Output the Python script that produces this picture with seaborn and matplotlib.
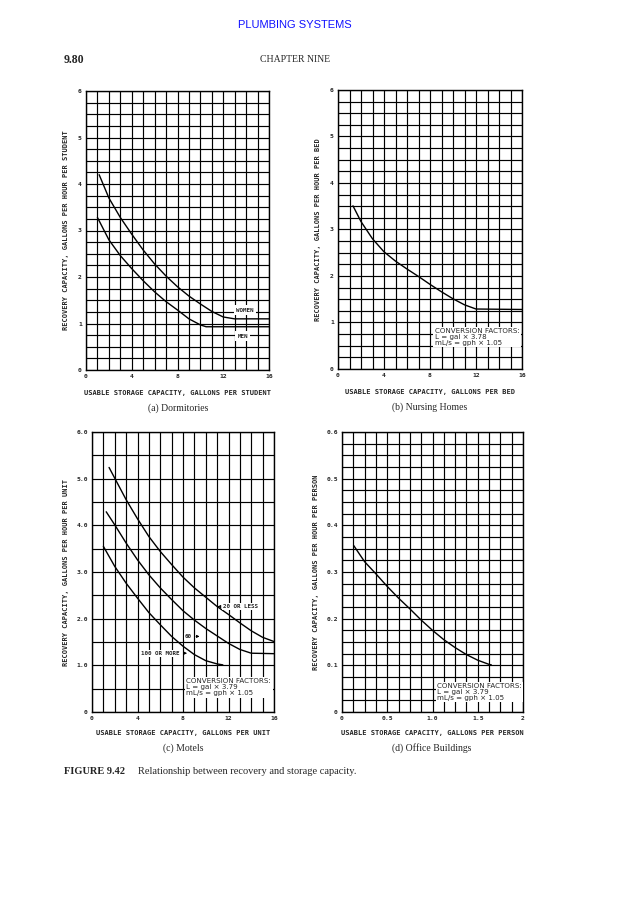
import numpy as np
import pandas as pd
import matplotlib
matplotlib.use("Agg")
import matplotlib.pyplot as plt
import seaborn as sns

# ---------------- data ----------------
# (a) Dormitories
dorm_women_x = [1.15, 2, 3, 4, 5, 6, 7, 8, 9, 10, 11, 12, 13, 16]
dorm_women_y = [4.2, 3.7, 3.28, 2.92, 2.58, 2.28, 2.02, 1.79, 1.59, 1.42, 1.26, 1.14, 1.1, 1.1]
dorm_men_x = [1.0, 2, 3, 4, 5, 6, 7, 8, 9, 10, 10.5, 16]
dorm_men_y = [3.28, 2.8, 2.46, 2.18, 1.92, 1.68, 1.47, 1.29, 1.1, 0.97, 0.93, 0.93]

# (b) Nursing homes
nurse_x = [1.3, 2, 3, 4, 5, 6, 7, 8, 9, 10, 11, 12, 16]
nurse_y = [3.51, 3.17, 2.8, 2.52, 2.32, 2.15, 1.99, 1.82, 1.66, 1.51, 1.38, 1.29, 1.28]

# (c) Motels
motel_20_x = [1.5, 2, 3, 4, 5, 6, 7, 8, 9, 10, 11, 12, 13, 14, 15, 16]
motel_20_y = [5.24, 5.01, 4.55, 4.14, 3.76, 3.44, 3.16, 2.89, 2.66, 2.46, 2.26, 2.09, 1.91, 1.74, 1.6, 1.51]
motel_60_x = [1.25, 2, 3, 4, 5, 6, 7, 8, 9, 10, 11, 12, 13, 14, 16]
motel_60_y = [4.29, 4.01, 3.62, 3.26, 2.94, 2.66, 2.41, 2.17, 1.97, 1.79, 1.63, 1.47, 1.34, 1.26, 1.25]
motel_100_x = [1.0, 2, 3, 4, 5, 6, 7, 8, 9, 10, 11, 11.5]
motel_100_y = [3.55, 3.12, 2.76, 2.44, 2.13, 1.87, 1.62, 1.41, 1.23, 1.1, 1.03, 1.01]

# (d) Office buildings
office_x = [0.128, 0.25, 0.375, 0.5, 0.625, 0.75, 0.875, 1.0, 1.125, 1.25, 1.375, 1.5, 1.625, 1.65]
office_y = [0.357, 0.322, 0.296, 0.269, 0.244, 0.221, 0.197, 0.175, 0.155, 0.138, 0.123, 0.111, 0.102, 0.101]

# tick labels
dorm_yticks = [0, 1, 2, 3, 4, 5, 6]
big_xticks = [0, 4, 8, 12, 16]
motel_yticks = [0, 1.0, 2.0, 3.0, 4.0, 5.0, 6.0]
motel_yticklabels = ["0", "1.0", "2.0", "3.0", "4.0", "5.0", "6.0"]
office_yticks = [0, 0.1, 0.2, 0.3, 0.4, 0.5, 0.6]
office_yticklabels = ["0", "0.1", "0.2", "0.3", "0.4", "0.5", "0.6"]
office_xticks = [0, 0.5, 1.0, 1.5, 2]
office_xticklabels = ["0", "0.5", "1.0", "1.5", "2"]

conv_a = "CONVERSION FACTORS:\nL = gal × 3.78\nmL/s = gph × 1.05"
conv_b = "CONVERSION FACTORS:\nL = gal × 3.79\nmL/s = gph × 1.05"

# ---------------- figure ----------------
sns.set_style("white")
plt.rcParams['font.family'] = ['DejaVu Sans']

fig = plt.figure(figsize=(6.18, 9.0), dpi=100)
W, H = 618.0, 900.0

def axes_px(x0, y0, x1, y1):
    return fig.add_axes([x0 / W, 1 - y1 / H, (x1 - x0) / W, (y1 - y0) / H])

ax_a = axes_px(86, 91, 269, 370)
ax_b = axes_px(338, 90, 522, 369)
ax_c = axes_px(92, 432, 274, 712)
ax_d = axes_px(342, 432, 523, 712)

mono = "DejaVu Sans Mono"
tick_kw = dict(fontsize=4.6, family=mono, fontweight="bold")
lab_kw = dict(fontsize=5.0, family=mono, fontweight="bold")

def setup(ax, xlim, ylim, xminor, yminor, xticks, xticklabels, yticks, yticklabels):
    ax.set_xlim(*xlim)
    ax.set_ylim(*ylim)
    ax.set_xticks(xticks)
    ax.set_xticklabels(xticklabels, **tick_kw)
    ax.set_yticks(yticks)
    ax.set_yticklabels(yticklabels, **tick_kw)
    ax.set_xticks(np.arange(xlim[0], xlim[1] + 1e-9, xminor), minor=True)
    ax.set_yticks(np.arange(ylim[0], ylim[1] + 1e-9, yminor), minor=True)
    ax.grid(which="both", color="black", lw=0.85)
    ax.tick_params(which="both", length=0, pad=3)
    for s in ax.spines.values():
        s.set_color("black")
        s.set_linewidth(1.0)
    ax.set_xlabel("")
    ax.set_ylabel("")

def curve(ax, xs, ys):
    df = pd.DataFrame({"x": xs, "y": ys})
    sns.lineplot(data=df, x="x", y="y", ax=ax, color="black", lw=1.0, sort=False)

box = dict(facecolor="white", edgecolor="none", pad=1.8)
small = dict(fontsize=4.2, family=mono, fontweight="bold")

# (a)
curve(ax_a, dorm_women_x, dorm_women_y)
curve(ax_a, dorm_men_x, dorm_men_y)
setup(ax_a, (0, 16), (0, 6), 1, 0.25, big_xticks, [str(v) for v in big_xticks],
      dorm_yticks, [str(v) for v in dorm_yticks])
ax_a.text(13.9, 1.29, "WOMEN", ha="center", va="center", bbox=box, **small)
ax_a.text(13.7, 0.73, "MEN", ha="center", va="center", bbox=box, **small)

conv_kw = dict(fontsize=5.1, ha="left", va="top", linespacing=1.0,
               bbox=dict(facecolor="white", edgecolor="none", pad=1.0))

# (b)
curve(ax_b, nurse_x, nurse_y)
setup(ax_b, (0, 16), (0, 6), 1, 0.25, big_xticks, [str(v) for v in big_xticks],
      dorm_yticks, [str(v) for v in dorm_yticks])
ax_b.text(8.4, 0.88, conv_a, **conv_kw)

# (c)
curve(ax_c, motel_20_x, motel_20_y)
curve(ax_c, motel_60_x, motel_60_y)
curve(ax_c, motel_100_x, motel_100_y)
setup(ax_c, (0, 16), (0, 6), 1, 0.5, big_xticks, [str(v) for v in big_xticks],
      motel_yticks, motel_yticklabels)
arrow = dict(arrowstyle="-|>", color="black", lw=0.6, mutation_scale=4)
lbox = dict(facecolor="white", edgecolor="none", pad=0.8)
ax_c.annotate("20 OR LESS", xy=(10.8, 2.26), xytext=(11.5, 2.26), va="center", ha="left",
              bbox=lbox, arrowprops=arrow, **small)
ax_c.annotate("60", xy=(9.7, 1.62), xytext=(8.8, 1.62), va="center", ha="right",
              bbox=lbox, arrowprops=arrow, **small)
ax_c.annotate("100 OR MORE", xy=(8.6, 1.26), xytext=(7.7, 1.26), va="center", ha="right",
              bbox=lbox, arrowprops=arrow, **small)
ax_c.text(8.3, 0.72, conv_b, **conv_kw)

# (d)
curve(ax_d, office_x, office_y)
setup(ax_d, (0, 2), (0, 0.6), 0.125, 0.025, office_xticks, office_xticklabels,
      office_yticks, office_yticklabels)
ax_d.text(1.05, 0.062, conv_b, **conv_kw)

# axis labels and subtitles (figure coordinates in pixels)
def ftext(x, y, s, **kw):
    fig.text(x / W, 1 - y / H, s, **kw)

ylab = "RECOVERY CAPACITY, GALLONS PER HOUR PER "
xlab = "USABLE STORAGE CAPACITY, GALLONS PER "
ftext(66, 230, ylab + "STUDENT", rotation=90, ha="center", va="center", **lab_kw)
ftext(318, 230, ylab + "BED", rotation=90, ha="center", va="center", **lab_kw)
ftext(66, 572, ylab + "UNIT", rotation=90, ha="center", va="center", **lab_kw)
ftext(316, 572, ylab + "PERSON", rotation=90, ha="center", va="center", **lab_kw)

ftext(178, 393, xlab + "STUDENT", ha="center", va="center", **lab_kw)
ftext(430, 392, xlab + "BED", ha="center", va="center", **lab_kw)
ftext(183, 733, xlab + "UNIT", ha="center", va="center", **lab_kw)
ftext(432, 733, xlab + "PERSON", ha="center", va="center", **lab_kw)

sub_kw = dict(fontsize=7, family="Liberation Serif", ha="center", va="center")
ftext(178, 408, "(a) Dormitories", **sub_kw)
ftext(430, 407, "(b) Nursing Homes", **sub_kw)
ftext(183, 748, "(c) Motels", **sub_kw)
ftext(432, 748, "(d) Office Buildings", **sub_kw)

# page header and caption
ftext(295, 25, "PLUMBING SYSTEMS", fontsize=8, color="#1010ff", ha="center", va="center",
      family="Liberation Sans")
ftext(64, 60, "9.80", fontsize=8.5, fontweight="bold", ha="left", va="center", family="Liberation Serif")
ftext(295, 60, "CHAPTER NINE", fontsize=7, ha="center", va="center", family="Liberation Serif")
ftext(64, 771, "FIGURE 9.42", fontsize=7.5, fontweight="bold", ha="left", va="center", family="Liberation Serif")
ftext(138, 771, "Relationship between recovery and storage capacity.", fontsize=7.5, ha="left",
      va="center", family="Liberation Serif")

fig.savefig("out.png", dpi=100, facecolor="white")
